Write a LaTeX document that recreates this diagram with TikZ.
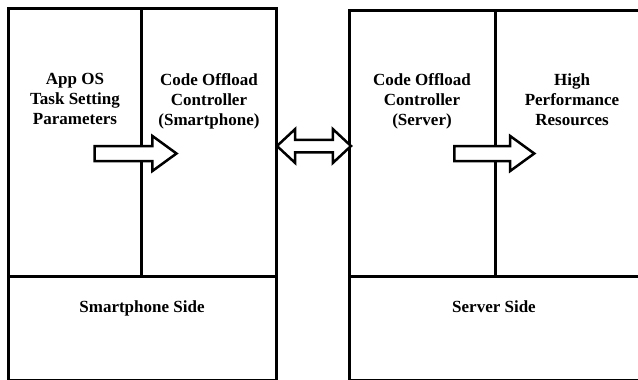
\documentclass[tikz,border=0pt]{standalone}
\usepackage{fontspec}
\setmainfont{Liberation Serif}
\usetikzlibrary{arrows.meta, calc, positioning, shapes.arrows}
\tikzset{>=latex}

\begin{document}
\begin{tikzpicture}[x=1pt, y=-1pt,
    side/.style={draw, line width=3pt, inner sep=0pt, outer sep=0pt, anchor=north west},
    wall/.style={line width=3pt},
    txt/.style={align=center, inner sep=0pt, anchor=north,
                font=\bfseries\fontsize{17}{20}\selectfont},
    fatarrow/.style={single arrow, draw, fill=white, line width=2.5pt,
                     inner xsep=0pt, inner ysep=6.25pt, anchor=tail,
                     single arrow head extend=10pt, single arrow tip angle=72},
    linkarrow/.style={double arrow, draw, fill=white, line width=2.5pt,
                      inner xsep=0pt, inner ysep=5pt,
                      double arrow head extend=10.75pt, double arrow tip angle=86}]
    \useasboundingbox (0,0) rectangle (638,380);
    \clip (0,0) rectangle (638,380);

    % the two sides
    \node[side, minimum width=268, minimum height=372.6] (phone) at (8,8) {};
    \node[side, minimum width=301, minimum height=370.6] (server) at (349,10) {};

    \coordinate (phonecut) at (141,276);
    \coordinate (servercut) at (495,276);
    \draw[wall] (phone.west |- phonecut) -- (phone.east |- phonecut);
    \draw[wall] (phone.north -| phonecut) -- (phonecut);
    \draw[wall] (server.west |- servercut) -- (server.east |- servercut);
    \draw[wall] (server.north -| servercut) -- (servercut);

    % labels
    \begin{scope}[every node/.style={txt}]
      \node (appos) at (75,73.4) {App OS\\Task Setting\\Parameters};
      \node (phonectl) at (209,73.4) {Code Offload\\Controller\\(Smartphone)};
      \node (serverctl) at (422,73.4) {Code Offload\\Controller\\(Server)};
      \node (hpr) at (572,73.4) {High\\Performance\\Resources};
      \node[anchor=base] (phoneside) at (142,312) {Smartphone Side};
      \node[anchor=base] (serverside) at (494,312) {Server Side};
    \end{scope}

    % block arrows
    \node[fatarrow, minimum height=82] (phonego) at (93.25,153.5) {};
    \node[fatarrow, minimum height=80] (servergo) at (453,153.5) {};
    \coordinate (linkmid) at (314,146);
    \node[linkarrow, minimum height=74] (link) at (linkmid) {};
\end{tikzpicture}
\end{document}
